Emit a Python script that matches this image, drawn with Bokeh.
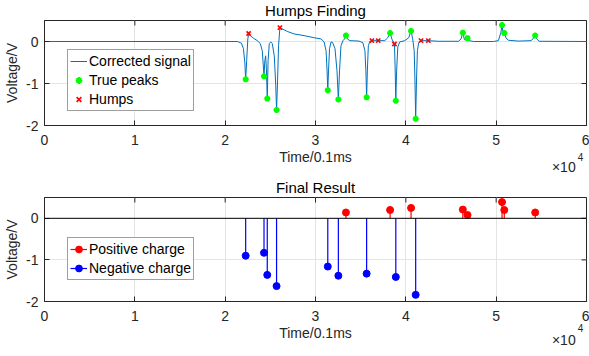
import math
from bokeh.plotting import figure
from bokeh.models import (ColumnDataSource, Legend, LegendItem, Span,
                          LinearAxis, FixedTicker, Range1d)
from bokeh.layouts import column
from bokeh.embed import file_html
from bokeh.resources import INLINE

# ---------------- data ----------------
x_ticks = [0, 10000, 20000, 30000, 40000, 50000, 60000]
x_tick_labels = ["0", "1", "2", "3", "4", "5", "6"]
y_ticks = [-2, -1, 0]
y_tick_labels = ["-2", "-1", "0"]
x_lim = [0, 60000]
y_lim = [-2, 0.5]
exp_base = "\u00d710"
exp_power = "4"

sig_x = [0, 21350, 21800, 22020, 22180, 22270, 22380, 22510, 22600, 22790,
         23120, 23560, 23890, 24110, 24300, 24390, 24480, 24575, 24660, 24750,
         24885, 25050, 25215, 25436, 25600, 25690, 25800, 25910, 26060, 26320,
         26870, 27640, 28740, 29850, 30620, 30950, 31170, 31280, 31360, 31440,
         31555, 31720, 31885, 32160, 32380, 32530, 32660, 32820, 33040, 33210,
         33370, 33540, 33810, 34810, 35250, 35470, 35580, 35660, 35740, 35850,
         36020, 36240, 36940, 37670, 38000, 38260, 38450, 38740, 38810, 38890,
         38980, 39110, 39330, 39880, 40320, 40580, 40760, 40925, 41010, 41090,
         41180, 41280, 41420, 41680, 42490, 43630, 45830, 46110, 46310, 46490,
         46660, 46830, 47040, 47490, 49690, 50240, 50520, 50650, 50740, 50900,
         51070, 51350, 52450, 53880, 54160, 54320, 54490, 54760, 60000]
sig_y = [0, 0, -0.04, -0.17, -0.51, -0.90, -0.46, 0.06, 0.19, 0.14,
         0.08, 0.02, -0.05, -0.22, -0.83, -0.46, -0.34, -0.70, -1.36, -0.46,
         -0.05, -0.01, -0.05, -0.34, -1.05, -1.63, -0.94, -0.10, 0.33, 0.30,
         0.24, 0.18, 0.14, 0.09, 0.06, -0.01, -0.22, -0.70, -1.16, -0.70,
         -0.17, -0.01, -0.02, -0.17, -0.70, -1.38, -0.70, -0.10, 0.02, 0.06,
         0.14, 0.06, 0.02, 0.01, -0.03, -0.22, -0.70, -1.33, -0.70, -0.10,
         0.005, 0.02, 0.02, 0.02, 0.09, 0.20, 0.06, -0.06, -0.58, -1.41,
         -0.70, -0.13, -0.01, 0.02, 0.09, 0.25, 0.06, -0.22, -0.94, -1.84,
         -0.94, -0.22, -0.03, 0.02, 0.02, 0.005, 0.005, 0.06, 0.21, 0.04,
         0.04, 0.08, 0.02, 0, 0, 0.02, 0.21, 0.39, 0.25, 0.20,
         0.09, 0.03, 0.01, 0.02, 0.09, 0.14, 0.06, 0.005, 0]

peak_x = [22270, 24300, 24660, 25690, 31360, 32530, 33370, 35660, 38260,
          38890, 40580, 41090, 46310, 46830, 50650, 50900, 54320]
peak_y = [-0.90, -0.83, -1.36, -1.63, -1.16, -1.38, 0.14, -1.33, 0.20,
          -1.41, 0.25, -1.84, 0.21, 0.08, 0.39, 0.20, 0.14]

hump_x = [22600, 26060, 36240, 36940, 38740, 41680, 42490]
hump_y = [0.19, 0.33, 0.02, 0.02, -0.06, 0.02, 0.02]

# ---------------- styling helpers ----------------
FONT = "Liberation Sans"
TXT = "#262626"
GRID = "#e4e4e4"


def make_fig(title, height, top, bottom):
    p = figure(width=589, height=height, output_backend="svg", toolbar_location=None,
               x_range=Range1d(*x_lim), y_range=Range1d(*y_lim),
               min_border_left=44, min_border_right=3,
               min_border_top=top, min_border_bottom=bottom)
    p.title.text = title
    p.title.align = "center"
    p.title.vertical_align = "top"
    p.title.text_line_height = 1.0
    p.title.text_font = FONT
    p.title.text_font_size = "15px"
    p.title.text_font_style = "normal"
    p.title.text_color = "#000000"
    p.title.standoff = 0
    p.outline_line_color = TXT
    p.outline_line_alpha = 1
    p.outline_line_width = 1
    p.background_fill_color = "white"
    p.border_fill_color = "white"

    xa = p.xaxis[0]
    ya = p.yaxis[0]
    xa.ticker = FixedTicker(ticks=x_ticks)
    xa.major_label_overrides = dict(zip(x_ticks, x_tick_labels))
    ya.ticker = FixedTicker(ticks=y_ticks)
    ya.major_label_overrides = dict(zip(y_ticks, y_tick_labels))
    xa.axis_label = "Time/0.1ms"
    ya.axis_label = "Voltage/V"
    for ax in (xa, ya):
        ax.major_label_text_font = FONT
        ax.major_label_text_font_size = "14px"
        ax.major_label_text_color = TXT
        ax.axis_label_text_font = FONT
        ax.axis_label_text_font_size = "14px"
        ax.axis_label_text_font_style = "normal"
        ax.axis_label_text_color = TXT
        ax.axis_line_color = TXT
        ax.major_tick_line_color = TXT
        ax.major_tick_in = 5
        ax.major_tick_out = 0
        ax.minor_tick_line_color = None
    xa.major_label_standoff = 9
    xa.axis_label_standoff = 1
    ya.major_label_standoff = 6
    ya.axis_label_standoff = 3

    # inward ticks on the top and right edges of the box
    p.scatter(x_ticks, [y_lim[1]] * len(x_ticks), marker="dash", angle=math.pi / 2,
              size=10, line_color=TXT, line_width=1)
    p.scatter([x_lim[1]] * len(y_ticks), y_ticks, marker="dash",
              size=10, line_color=TXT, line_width=1)

    p.xgrid.ticker = FixedTicker(ticks=x_ticks)
    p.ygrid.ticker = FixedTicker(ticks=y_ticks)
    p.xgrid.grid_line_color = GRID
    p.ygrid.grid_line_color = GRID
    return p


def add_exponent(p, base_off, pow_off):
    # "x10^4" multiplier written below the right end of the x axis
    base_pos, pow_pos = 57490, 59340
    for pos, txt, size, off in ((base_pos, exp_base, "14px", base_off),
                                (pow_pos, exp_power, "10px", pow_off)):
        ax = LinearAxis(ticker=FixedTicker(ticks=[pos]),
                        major_label_overrides={pos: txt},
                        major_label_text_font=FONT,
                        major_label_text_font_size=size,
                        major_label_text_color=TXT,
                        major_label_standoff=off,
                        major_tick_in=0, major_tick_out=0,
                        major_tick_line_color=None,
                        minor_tick_line_color=None,
                        axis_line_color=None)
        p.add_layout(ax, "below")


def style_legend(lg, loc):
    lg.location = loc
    lg.label_text_font = FONT
    lg.label_text_font_size = "14px"
    lg.label_text_color = "#000000"
    lg.glyph_width = 17
    lg.glyph_height = 18
    lg.label_height = 18
    lg.label_standoff = 2
    lg.spacing = 1
    lg.padding = 2
    lg.margin = 0
    lg.border_line_color = "#404040"
    lg.border_line_width = 1
    lg.background_fill_alpha = 1


# ---------------- top: Humps Finding ----------------
p1 = make_fig("Humps Finding", 178, 20, 53)
r_sig = p1.line(sig_x, sig_y, line_color="#0072BD", line_width=1.0)
r_peak = p1.scatter(peak_x, peak_y, marker="asterisk", size=6,
                    line_color="#00ff00", line_width=2)
r_hump = p1.scatter(hump_x, hump_y, marker="x", size=6,
                    line_color="#ff0000", line_width=1.6)
lg1 = Legend(items=[LegendItem(label="Corrected signal", renderers=[r_sig]),
                    LegendItem(label="True peaks", renderers=[r_peak]),
                    LegendItem(label="Humps", renderers=[r_hump])])
style_legend(lg1, (23, 14))
p1.add_layout(lg1)
add_exponent(p1, -9, -25)

# ---------------- bottom: Final Result ----------------
pos_x = [x for x, y in zip(peak_x, peak_y) if y > 0]
pos_y = [y for y in peak_y if y > 0]
neg_x = [x for x, y in zip(peak_x, peak_y) if y < 0]
neg_y = [y for y in peak_y if y < 0]

p2 = make_fig("Final Result", 178, 18, 55)
p2.add_layout(Span(location=0, dimension="width", line_color="#000000", line_width=1))
pos_src = ColumnDataSource(dict(x=pos_x, y=pos_y))
neg_src = ColumnDataSource(dict(x=neg_x, y=neg_y))
rp_s = p2.segment(x0="x", y0=0, x1="x", y1="y", source=pos_src,
                  line_color="#ff0000", line_width=1.2)
rp_m = p2.scatter(x="x", y="y", source=pos_src, marker="circle", size=7,
                  fill_color="#ff0000", line_color="#ff0000")
rn_s = p2.segment(x0="x", y0=0, x1="x", y1="y", source=neg_src,
                  line_color="#0000ff", line_width=1.2)
rn_m = p2.scatter(x="x", y="y", source=neg_src, marker="circle", size=7,
                  fill_color="#0000ff", line_color="#0000ff")
lg2 = Legend(items=[LegendItem(label="Positive charge", renderers=[rp_s, rp_m]),
                    LegendItem(label="Negative charge", renderers=[rn_s, rn_m])])
style_legend(lg2, (23, 21))
p2.add_layout(lg2)
add_exponent(p2, -12, -27)

layout = column(p1, p2, spacing=0)
open("out.html", "w").write(file_html(layout, INLINE))
